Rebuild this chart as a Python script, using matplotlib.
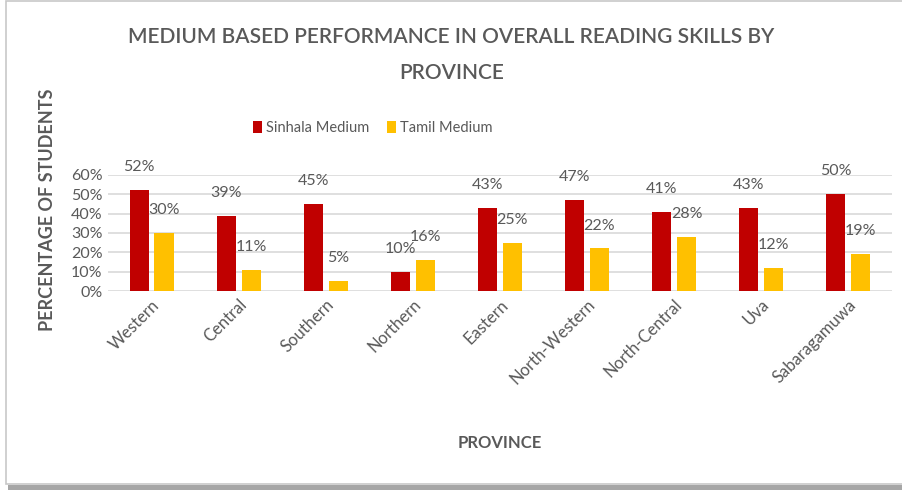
import numpy as np
import matplotlib
matplotlib.use('Agg')
import matplotlib.pyplot as plt
from matplotlib.patches import Rectangle

plt.rcParams['font.family'] = ['Lato', 'DejaVu Sans']

# Data
provinces = ['Western', 'Central', 'Southern', 'Northern', 'Eastern',
             'North-Western', 'North-Central', 'Uva', 'Sabaragamuwa']
sinhala = [52, 39, 45, 10, 43, 47, 41, 43, 50]
tamil = [30, 11, 5, 16, 25, 22, 28, 12, 19]
yticks = [0, 10, 20, 30, 40, 50, 60]

red = '#C00000'
gold = '#FFC000'
grey = '#595959'

fig = plt.figure(figsize=(9.03, 4.9), dpi=100)

# frame and drop shadow of the pasted chart (behind everything)
fig.patches.append(Rectangle((8 / 903, 0), 1, 5 / 490, transform=fig.transFigure,
                             facecolor='#A6A6A6', edgecolor='none', zorder=-2))
fig.patches.append(Rectangle((6 / 903, 6 / 490), 1.2, 1 - 7 / 490, transform=fig.transFigure,
                             facecolor='white', edgecolor='#C8C8C8', linewidth=1.2, zorder=-1))

ax = fig.add_axes([0.1196, 0.406, 0.868, 0.237])
ax.patch.set_alpha(0)

x = np.arange(len(provinces))
w = 0.22
off = 0.143
b1 = ax.bar(x - off, sinhala, w, color=red, label='Sinhala Medium', zorder=3)
b2 = ax.bar(x + off, tamil, w, color=gold, label='Tamil Medium', zorder=3)

# data labels sit a bit above each bar
for bars, vals in ((b1, sinhala), (b2, tamil)):
    for bar, v in zip(bars, vals):
        ax.annotate(f'{v}%', (bar.get_x() + bar.get_width() / 2, v),
                    xytext=(0, 16.5), textcoords='offset points',
                    ha='center', va='center', fontsize=11.5, color=grey)

ax.set_xlim(-0.5, len(provinces) - 0.5)
ax.set_ylim(0, 60)
ax.set_yticks(yticks)
ax.set_yticklabels([f'{t}%' for t in yticks], fontsize=11.5, color=grey)
ax.set_xticks(x)
ax.set_xticklabels(provinces, rotation=45, ha='right', rotation_mode='anchor',
                   fontsize=12, color=grey)
ax.tick_params(length=0, pad=4)
ax.grid(axis='y', color='#D9D9D9', linewidth=1.2, zorder=0)
for s in ax.spines.values():
    s.set_visible(False)

ax.set_xlabel('PROVINCE', fontsize=12, fontweight='bold', color=grey)
ax.xaxis.set_label_coords(0.5, -1.24)
ax.set_ylabel('PERCENTAGE OF STUDENTS', fontsize=13, fontweight='bold', color=grey)
ax.yaxis.set_label_coords(-0.066, 0.70)

fig.text(0.5, 1 - 37 / 490, 'MEDIUM BASED PERFORMANCE IN OVERALL READING SKILLS BY',
         ha='center', va='center', fontsize=15, fontweight='semibold', color=grey)
fig.text(0.5, 1 - 73 / 490, 'PROVINCE',
         ha='center', va='center', fontsize=15, fontweight='semibold', color=grey)

fig.legend(handles=[b1, b2], loc='center', bbox_to_anchor=(0.413, 0.739), ncol=2,
           frameon=False, fontsize=10.5, labelcolor=grey, handlelength=0.6,
           handleheight=0.9, handletextpad=0.3, columnspacing=1.2)

fig.savefig('out.png', dpi=100)
